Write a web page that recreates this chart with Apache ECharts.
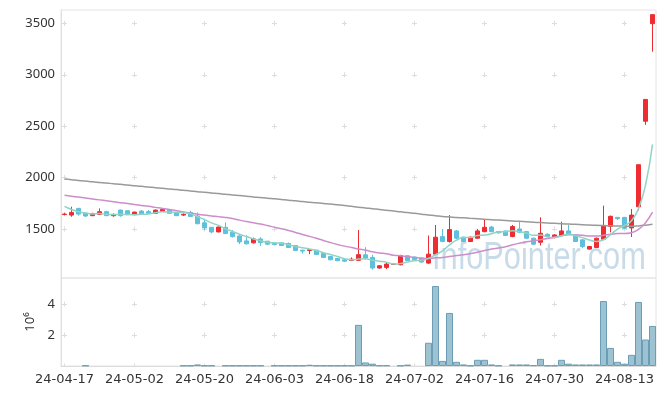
<!DOCTYPE html>
<html>
<head>
<meta charset="utf-8">
<script src="https://cdn.jsdelivr.net/npm/echarts@6/dist/echarts.min.js"></script>
<style>
html,body{margin:0;padding:0;background:#fff;}
#chart{width:665px;height:396px;}
</style>
</head>
<body>
<div id="chart"></div>
<script>
const categories = ['24-04-17','24-04-18','24-04-19','24-04-22','24-04-23','24-04-24','24-04-25','24-04-26','24-04-29','24-04-30',
'24-05-02','24-05-03','24-05-07','24-05-08','24-05-09','24-05-10','24-05-13','24-05-14','24-05-16','24-05-17',
'24-05-20','24-05-21','24-05-22','24-05-23','24-05-24','24-05-27','24-05-28','24-05-29','24-05-30','24-05-31',
'24-06-03','24-06-04','24-06-05','24-06-07','24-06-10','24-06-11','24-06-12','24-06-13','24-06-14','24-06-17',
'24-06-18','24-06-19','24-06-20','24-06-21','24-06-24','24-06-25','24-06-26','24-06-27','24-06-28','24-07-01',
'24-07-02','24-07-03','24-07-04','24-07-05','24-07-08','24-07-09','24-07-10','24-07-11','24-07-12','24-07-15',
'24-07-16','24-07-17','24-07-18','24-07-19','24-07-22','24-07-23','24-07-24','24-07-25','24-07-26','24-07-29',
'24-07-30','24-07-31','24-08-01','24-08-02','24-08-05','24-08-06','24-08-07','24-08-08','24-08-09','24-08-12',
'24-08-13','24-08-14','24-08-16','24-08-19','24-08-20'];

const openVals = [1640,1635,1700,1655,1629,1642,1668,1629,1684,1677,
1639,1674,1668,1652,1671,1687,1661,1635,1661,1626,
1560,1516,1471,1516,1468,1432,1384,1365,1403,1381,
1358,1365,1358,1339,1294,1291,1294,1262,1233,1213,
1200,1194,1195,1249,1223,1120,1126,1155,1152,1239,
1226,1217,1168,1255,1426,1378,1481,1420,1378,1410,
1474,1519,1476,1481,1426,1500,1474,1410,1371,1448,
1416,1436,1481,1442,1394,1304,1320,1400,1525,1613,
1613,1510,1716,2548,3497];

const closeVals = [1645,1661,1645,1626,1648,1668,1629,1635,1629,1639,
1664,1645,1652,1684,1690,1652,1629,1642,1622,1551,
1510,1471,1519,1455,1426,1374,1355,1403,1368,1352,
1349,1339,1320,1291,1285,1297,1252,1223,1200,1191,
1187,1206,1250,1217,1120,1142,1158,1158,1242,1194,
1201,1178,1255,1420,1378,1494,1410,1378,1420,1481,
1516,1474,1462,1436,1523,1468,1410,1352,1458,1426,
1442,1481,1448,1378,1329,1329,1410,1529,1623,1600,
1506,1635,2125,2760,3585];

const lowVals = [1632,1619,1629,1616,1626,1635,1626,1619,1619,1635,
1635,1642,1648,1648,1668,1648,1626,1626,1619,1545,
1490,1458,1468,1450,1416,1352,1350,1358,1336,1346,
1339,1333,1316,1288,1262,1255,1249,1220,1197,1188,
1178,1188,1190,1201,1104,1113,1110,1155,1146,1190,
1197,1175,1158,1249,1371,1368,1400,1374,1374,1406,
1468,1468,1455,1432,1420,1458,1404,1346,1339,1420,
1410,1432,1442,1374,1313,1300,1316,1394,1467,1587,
1500,1422,1681,2513,3224];

const highVals = [1658,1716,1706,1658,1658,1700,1677,1652,1687,1680,
1668,1684,1684,1687,1694,1690,1664,1652,1677,1661,
1600,1520,1522,1564,1490,1439,1439,1416,1420,1384,
1368,1368,1368,1342,1297,1300,1297,1265,1236,1216,
1207,1223,1490,1323,1249,1148,1178,1160,1249,1242,
1230,1220,1436,1539,1500,1635,1490,1426,1426,1500,
1597,1529,1480,1484,1539,1571,1481,1416,1613,1458,
1448,1571,1539,1448,1400,1333,1416,1727,1630,1613,
1617,1695,2126,2762,3585];

const volumeVals = [0,0,0,30000,0,0,0,0,0,0,
0,0,0,0,0,0,0,30000,30000,100000,
30000,30000,0,30000,30000,30000,30000,30000,30000,0,
30000,30000,30000,30000,30000,80000,30000,30000,30000,30000,
30000,30000,2660000,230000,150000,40000,40000,0,30000,90000,
0,0,1500000,5170000,330000,3430000,270000,100000,30000,400000,
400000,100000,30000,0,100000,100000,100000,50000,460000,30000,
30000,400000,150000,100000,100000,100000,100000,4200000,1170000,270000,
150000,720000,4140000,1710000,2590000];

const ma5Vals = [1720,1690,1668,1655,1645,1650,1643,1641,1642,1640,
1639,1642,1646,1657,1667,1665,1661,1659,1647,1619,
1591,1559,1535,1501,1476,1449,1426,1403,1385,1370,
1365,1362,1346,1330,1317,1306,1289,1270,1251,1233,
1211,1201,1207,1210,1196,1187,1177,1159,1164,1179,
1191,1195,1214,1250,1286,1345,1391,1416,1416,1437,
1441,1454,1471,1474,1482,1473,1460,1438,1442,1423,
1418,1432,1451,1435,1416,1393,1379,1395,1444,1498,
1534,1579,1698,1925,2322];

const ma20Vals = [1828,1819,1810,1801,1792,1783,1774,1765,1756,1747,
1738,1729,1720,1710,1700,1689,1678,1666,1654,1643,
1636,1627,1620,1612,1601,1586,1572,1561,1548,1533,
1517,1502,1486,1466,1446,1428,1409,1388,1367,1349,
1333,1320,1306,1294,1279,1267,1258,1245,1239,1231,
1224,1216,1212,1219,1223,1233,1241,1249,1260,1274,
1291,1304,1315,1326,1346,1362,1375,1385,1395,1407,
1419,1434,1444,1442,1439,1431,1431,1439,1449,1455,
1455,1463,1495,1561,1664];

const ma120Vals = [1985,1979,1972,1966,1959,1953,1947,1940,1934,1927,
1921,1915,1908,1902,1895,1889,1883,1876,1870,1863,
1857,1851,1844,1838,1831,1825,1819,1812,1806,1799,
1793,1787,1780,1774,1767,1761,1755,1748,1742,1735,
1728,1720,1712,1705,1697,1690,1682,1674,1667,1659,
1652,1644,1636,1629,1621,1617,1612,1608,1603,1599,
1594,1590,1586,1582,1578,1574,1570,1566,1562,1558,
1555,1551,1548,1545,1541,1538,1535,1533,1531,1529,
1527,1526,1530,1537,1546];

const candleData = categories.map((c, i) => [openVals[i], closeVals[i], lowVals[i], highVals[i]]);
const volumeData = volumeVals.map(v => (v > 0 ? v : '-'));

const FONT = 'Noto Sans';
const TXT = '#333333';
const crossColor = '#dddddd';

const chart = echarts.init(document.getElementById('chart'), null, {renderer: 'canvas'});
chart.setOption({
  animation: false,
  backgroundColor: '#ffffff',
  textStyle: {fontFamily: FONT},
  graphic: [{
    type: 'text',
    left: 432,
    top: 240,
    z: -10,
    silent: true,
    style: {
      text: 'InfoPointer.com',
      fontFamily: 'Liberation Sans',
      fontSize: 38,
      fill: 'rgba(165,197,218,0.62)'
    },
    scaleX: 0.81
  }],
  grid: [
    {left: 61, width: 595, top: 10, height: 268, show: true, borderColor: '#e4e4e4', borderWidth: 1, backgroundColor: 'transparent'},
    {left: 61, width: 595, top: 278, height: 88, show: true, borderColor: '#e4e4e4', borderWidth: 1, backgroundColor: 'transparent'}
  ],
  xAxis: [
    {
      type: 'category', gridIndex: 0, data: categories, boundaryGap: true,
      axisLine: {show: false}, axisTick: {show: false}, axisLabel: {show: false},
      splitLine: {show: true, interval: 9, alignWithLabel: true,
        lineStyle: {color: crossColor, width: 1, type: [5, 46.4], dashOffset: 40.5}}
    },
    {
      type: 'category', gridIndex: 1, data: categories, boundaryGap: true,
      axisLine: {show: true, lineStyle: {color: '#dcdcdc'}},
      axisTick: {show: false},
      axisLabel: {show: true, interval: 9, color: TXT, fontSize: 13, fontFamily: 'DejaVu Sans', margin: 7},
      splitLine: {show: true, interval: 9, alignWithLabel: true,
        lineStyle: {color: crossColor, width: 1, type: [5, 25.95], dashOffset: 7.35}}
    }
  ],
  yAxis: [
    {
      type: 'value', gridIndex: 0, min: 1023, max: 3630,
      axisLine: {show: true, lineStyle: {color: '#e0e0e0'}},
      axisTick: {show: false},
      axisLabel: {
        color: TXT, fontSize: 13, fontFamily: FONT, margin: 6,
        showMinLabel: false, showMaxLabel: false,
        formatter: function (v) { return (v % 500 === 0) ? String(v) : ''; }
      },
      splitLine: {show: true, showMinLine: false, showMaxLine: false,
        lineStyle: {color: crossColor, width: 1, type: [5, 65], dashOffset: 69}}
    },
    {
      type: 'value', gridIndex: 1, min: 0, max: function (v) { return v.max * 1.1; }, interval: 2000000,
      name: '10\u2076', nameLocation: 'middle', nameGap: 24, nameRotate: 90,
      nameTextStyle: {color: TXT, fontSize: 13, fontFamily: FONT},
      axisLine: {show: true, lineStyle: {color: '#e0e0e0'}},
      axisTick: {show: false},
      axisLabel: {
        color: TXT, fontSize: 13, fontFamily: FONT, margin: 6,
        showMinLabel: false, showMaxLabel: false,
        formatter: function (v) { const m = v / 1e6; return (m > 0 && Math.abs(m - Math.round(m)) < 1e-6) ? String(Math.round(m)) : ''; }
      },
      splitLine: {show: true, showMinLine: false, showMaxLine: false,
        lineStyle: {color: crossColor, width: 1, type: [5, 65], dashOffset: 69}}
    }
  ],
  series: [
    {
      type: 'candlestick', xAxisIndex: 0, yAxisIndex: 0, data: candleData,
      barWidth: '66%',
      itemStyle: {color: '#ee2c31', color0: '#5ec0dc', borderColor: '#ee2c31', borderColor0: '#5ec0dc', borderWidth: 1}
    },
    {
      type: 'line', xAxisIndex: 0, yAxisIndex: 0, data: ma120Vals, symbol: 'none', smooth: true,
      lineStyle: {color: '#9a9a9a', width: 1.5}
    },
    {
      type: 'line', xAxisIndex: 0, yAxisIndex: 0, data: ma20Vals, symbol: 'none', smooth: true,
      lineStyle: {color: '#cc8dcb', width: 1.5}
    },
    {
      type: 'line', xAxisIndex: 0, yAxisIndex: 0, data: ma5Vals, symbol: 'none', smooth: true,
      lineStyle: {color: '#8fd4c4', width: 1.5}
    },
    {
      type: 'bar', xAxisIndex: 1, yAxisIndex: 1, data: volumeData, barCategoryGap: '0%',
      itemStyle: {color: '#9dc3d3', borderColor: '#6b9db5', borderWidth: 1}
    }
  ]
});
</script>
</body>
</html>
